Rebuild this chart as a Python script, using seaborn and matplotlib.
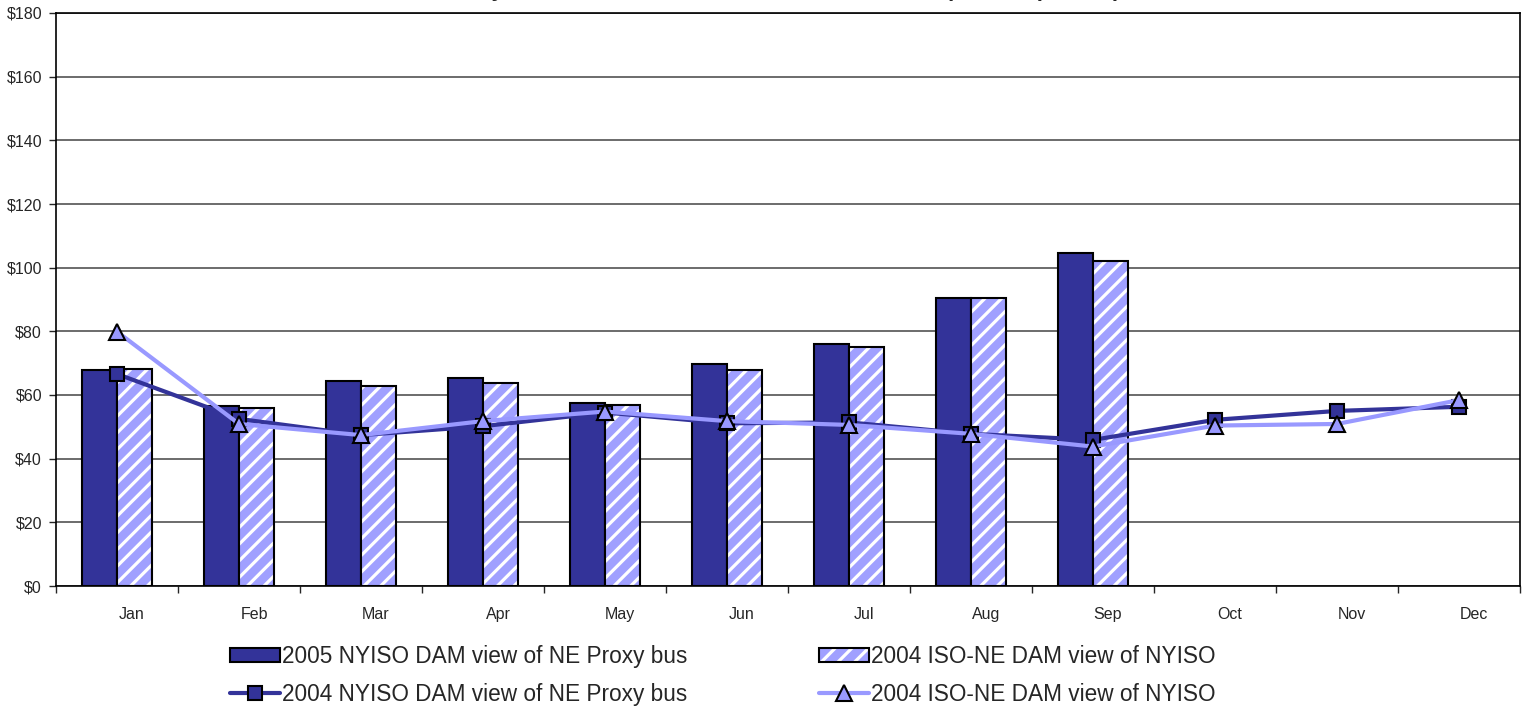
import numpy as np
import pandas as pd
import matplotlib
matplotlib.use('Agg')
import matplotlib.pyplot as plt
from matplotlib.patches import Patch, Rectangle
from matplotlib.lines import Line2D
from matplotlib.transforms import ScaledTranslation
import seaborn as sns

# data ($/MWh)
months = ['Jan', 'Feb', 'Mar', 'Apr', 'May', 'Jun', 'Jul', 'Aug', 'Sep', 'Oct', 'Nov', 'Dec']
bar_2005_nyiso = [67.7, 56.5, 64.5, 65.4, 57.6, 69.6, 76.0, 90.5, 104.7, np.nan, np.nan, np.nan]
bar_2004_isone = [68.3, 56.0, 62.8, 63.8, 56.9, 67.9, 75.0, 90.5, 102.2, np.nan, np.nan, np.nan]
line_2004_nyiso = [66.6, 52.5, 47.4, 50.2, 54.5, 51.1, 51.4, 47.8, 45.9, 52.2, 55.0, 56.3]
line_2004_isone = [79.9, 50.9, 47.4, 51.8, 54.8, 51.8, 50.6, 47.8, 43.8, 50.4, 50.9, 58.4]

lab_bar05 = '2005 NYISO DAM view of NE Proxy bus'
lab_bar04 = '2004 ISO-NE DAM view of NYISO'
lab_line_ny = '2004 NYISO DAM view of NE Proxy bus'
lab_line_ne = '2004 ISO-NE DAM view of NYISO'

title = 'Proxy Bus Prices: NYISO and ISO-NE DAM Comparison ($/MWh)'

dark = '#333399'
light = '#9999FF'
hatch_fill = '#A0A0FF'

sns.set_theme(style='white')
plt.rcParams['font.family'] = ['Liberation Sans', 'DejaVu Sans']
plt.rcParams['hatch.linewidth'] = 2.3

bars = pd.DataFrame({
    'month': months * 2,
    'value': bar_2005_nyiso + bar_2004_isone,
    'series': [lab_bar05] * 12 + ['2004 ISO-NE bars'] * 12,
})

fig = plt.figure(figsize=(15.26, 7.21), dpi=100)
ax = fig.add_axes([56 / 1526, 135 / 721, 1464 / 1526, 573 / 721])

sns.barplot(data=bars, x='month', y='value', hue='series', order=months,
            palette=[dark, hatch_fill], saturation=1, width=0.575, errorbar=None,
            edgecolor='black', linewidth=1.5, legend=False, ax=ax)

# hatched look for the 2004 ISO-NE bars: white stripes, black outline
hatch_rgb = matplotlib.colors.to_rgb(hatch_fill)
for p in list(ax.patches):
    fc = p.get_facecolor()
    if np.allclose(fc[:3], hatch_rgb, atol=0.03):
        h = p.get_height()
        if not np.isfinite(h) or h == 0:
            continue
        p.set_hatch('//')
        p.set_edgecolor('white')
        p.set_linewidth(0)
        ax.add_patch(Rectangle(p.get_xy(), p.get_width(), h, fill=False,
                               edgecolor='black', linewidth=1.5, zorder=2))

x = np.arange(len(months))
sns.lineplot(x=x, y=line_2004_nyiso, color=dark, linewidth=3, marker='s',
             markersize=10, markerfacecolor=dark, markeredgecolor='black',
             markeredgewidth=1.5, ax=ax, zorder=4)
sns.lineplot(x=x, y=line_2004_isone, color=light, linewidth=3, marker='^',
             markersize=11, markerfacecolor=light, markeredgecolor='black',
             markeredgewidth=1.5, ax=ax, zorder=5)

ax.set_xlim(-0.5, 11.5)
ax.set_ylim(0, 180)
ax.set_yticks(range(0, 181, 20))
ax.yaxis.set_major_formatter(matplotlib.ticker.StrMethodFormatter('${x:.0f}'))
ax.set_xlabel('')
ax.set_ylabel('')
ax.grid(axis='y', color='#444444', linewidth=1.1)
ax.set_axisbelow(True)
for s in ax.spines.values():
    s.set_color('black')
    s.set_linewidth(1.2)

ax.set_xticks(x)
ax.set_xticklabels(months)
ax.set_xticks(np.arange(-0.5, 12, 1), minor=True)
ax.tick_params(axis='x', which='major', length=0, pad=15, labelsize=11.5)
ax.tick_params(axis='x', which='minor', length=5, width=1, direction='out', bottom=True)
ax.tick_params(axis='y', length=5, width=1, direction='out', left=True, pad=5, labelsize=11.5)
for lbl in ax.get_xticklabels():
    lbl.set_transform(lbl.get_transform() + ScaledTranslation(0.15, 0, fig.dpi_scale_trans))

# title sits mostly above the top edge, as in the cropped reference
fig.text(1120 / 1526, 1 + 4 / 721, title, ha='right', va='baseline',
         fontsize=16, fontweight='bold')

h_bar05 = Patch(facecolor=dark, edgecolor='black', linewidth=1.5)
h_bar04 = (Patch(facecolor=hatch_fill, edgecolor='white', hatch='//', linewidth=0),
           Patch(fill=False, edgecolor='black', linewidth=1.5))
h_ny = Line2D([], [], color=dark, linewidth=3, marker='s', markersize=10,
              markerfacecolor=dark, markeredgecolor='black', markeredgewidth=1.5)
h_ne = Line2D([], [], color=light, linewidth=3, marker='^', markersize=11,
              markerfacecolor=light, markeredgecolor='black', markeredgewidth=1.5)
fig.legend([h_bar05, h_ny, h_bar04, h_ne],
           [lab_bar05, lab_line_ny, lab_bar04, lab_line_ne],
           loc='upper left', bbox_to_anchor=(230 / 1526, 1 - 645 / 721),
           ncol=2, frameon=False, fontsize=16.3, handlelength=2.2, handleheight=0.6,
           handletextpad=0.1, columnspacing=5.8, labelspacing=0.65,
           borderpad=0, borderaxespad=0)

fig.savefig('out.png', dpi=100)
